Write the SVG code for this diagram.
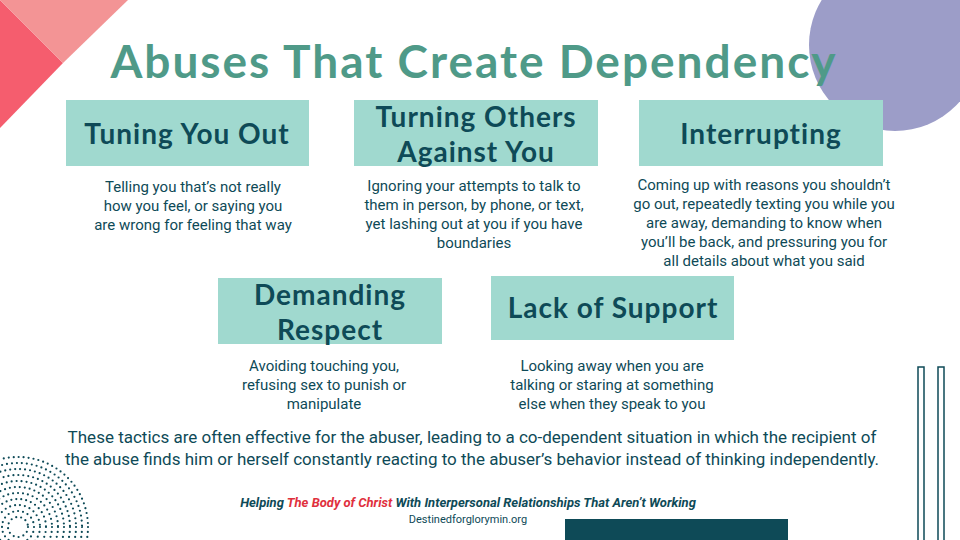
<svg xmlns="http://www.w3.org/2000/svg" width="960" height="540" viewBox="0 0 960 540">
<style>
.box{fill:#a0d9cf}
.bt{font-family:Lato,"Open Sans",sans-serif;font-size:28px;font-weight:bold;fill:#0e4a57;text-anchor:middle;letter-spacing:1px}
.d{font-family:Roboto,"Liberation Sans",sans-serif;font-size:15px;fill:#0e4a57;text-anchor:middle}
.ring{fill:none;stroke:#0e4a57;stroke-width:2.2;stroke-linecap:round;stroke-dasharray:0 5}
</style>
<rect width="960" height="540" fill="#fff"/>
<polygon points="0,0 63,63 0,128" fill="#f55d6e"/>
<polygon points="0,0 128,0 63,63" fill="#f39495"/>
<circle cx="895" cy="45" r="86" fill="#9c9dc8"/>
<text x="474" y="78" font-family="Lato,'Open Sans',sans-serif" font-size="46" font-weight="bold" fill="#4f9a88" text-anchor="middle" letter-spacing="2">Abuses That Create Dependency</text>
<g id="n1"><rect class="box" x="66" y="100" width="243" height="66"/><text class="bt" x="187" y="144">Tuning You Out</text>
<text class="d" x="193" y="192">Telling you that’s not really</text><text class="d" x="193" y="211">how you feel, or saying you</text><text class="d" x="193" y="230">are wrong for feeling that way</text></g>
<g id="n2"><rect class="box" x="354" y="100" width="244" height="66"/><text class="bt" x="476" y="127">Turning Others</text><text class="bt" x="476" y="162">Against You</text>
<text class="d" x="474" y="191">Ignoring your attempts to talk to</text><text class="d" x="474" y="210">them in person, by phone, or text,</text><text class="d" x="474" y="229">yet lashing out at you if you have</text><text class="d" x="474" y="248">boundaries</text></g>
<g id="n3"><rect class="box" x="639" y="100" width="244" height="66"/><text class="bt" x="761" y="144">Interrupting</text>
<text class="d" x="764" y="190">Coming up with reasons you shouldn’t</text><text class="d" x="764" y="209">go out, repeatedly texting you while you</text><text class="d" x="764" y="228">are away, demanding to know when</text><text class="d" x="764" y="247">you’ll be back, and pressuring you for</text><text class="d" x="764" y="266">all details about what you said</text></g>
<g id="n4"><rect class="box" x="218" y="278" width="224" height="66"/><text class="bt" x="330" y="305">Demanding</text><text class="bt" x="330" y="340">Respect</text>
<text class="d" x="324" y="371">Avoiding touching you,</text><text class="d" x="324" y="390">refusing sex to punish or</text><text class="d" x="324" y="409">manipulate</text></g>
<g id="n5"><rect class="box" x="491" y="276" width="243" height="64"/><text class="bt" x="613" y="318">Lack of Support</text>
<text class="d" x="612" y="371">Looking away when you are</text><text class="d" x="612" y="390">talking or staring at something</text><text class="d" x="612" y="409">else when they speak to you</text></g>
<g id="connectors"></g>
<text font-family="Roboto,'Liberation Sans',sans-serif" font-size="17" fill="#0e4a57" text-anchor="middle"><tspan x="472" y="443">These tactics are often effective for the abuser, leading to a co-dependent situation in which the recipient of</tspan><tspan x="472" y="465">the abuse finds him or herself constantly reacting to the abuser’s behavior instead of thinking independently.</tspan></text>
<text x="468" y="507" font-family="Roboto,'Liberation Sans',sans-serif" font-size="13" font-weight="bold" font-style="italic" fill="#0e4a57" text-anchor="middle">Helping <tspan fill="#e0303d">The Body of Christ</tspan>  With Interpersonal Relationships That Aren’t Working</text>
<text x="468" y="523" font-family="Roboto,'Liberation Sans',sans-serif" font-size="11" fill="#0e4a57" text-anchor="middle">Destinedforglorymin.org</text>
<rect x="565" y="519" width="223" height="21" fill="#0e4a57"/>
<rect x="918" y="367" width="6" height="180" fill="none" stroke="#0e4a57" stroke-width="1.5"/>
<rect x="938" y="367" width="6" height="180" fill="none" stroke="#0e4a57" stroke-width="1.5"/>
<g>
<circle class="ring" cx="18" cy="527" r="10"/><circle class="ring" cx="18" cy="527" r="16"/><circle class="ring" cx="18" cy="527" r="22"/><circle class="ring" cx="18" cy="527" r="28"/><circle class="ring" cx="18" cy="527" r="34"/><circle class="ring" cx="18" cy="527" r="40"/><circle class="ring" cx="18" cy="527" r="46"/><circle class="ring" cx="18" cy="527" r="52"/><circle class="ring" cx="18" cy="527" r="58"/><circle class="ring" cx="18" cy="527" r="64"/><circle class="ring" cx="18" cy="527" r="70"/>
</g>
</svg>
